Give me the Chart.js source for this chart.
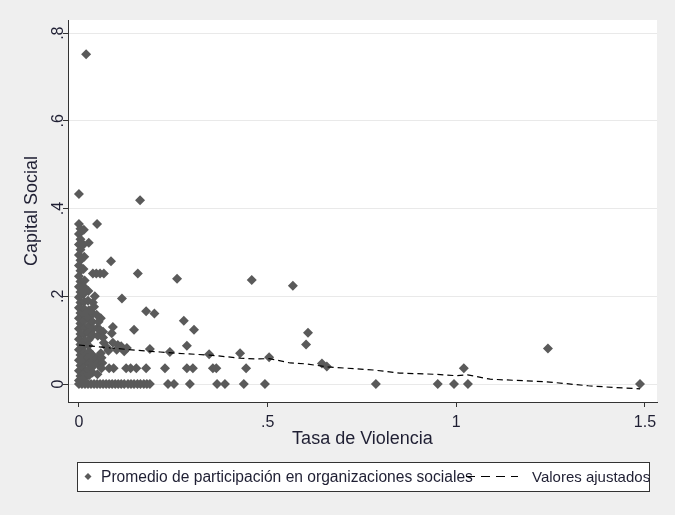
<!DOCTYPE html>
<html>
<head>
<meta charset="utf-8">
<script src="https://cdn.jsdelivr.net/npm/chart.js@4.4.1/dist/chart.umd.min.js"></script>
<style>
  html, body { margin: 0; padding: 0; background: #efefef; }
  #wrap { width: 675px; height: 515px; position: relative; }
</style>
</head>
<body>
<div id="wrap"><canvas id="c" width="675" height="515"></canvas></div>
<script>
// Axis ticks and labels
const xTicks = [0, 0.5, 1, 1.5];
const xTickLabels = ['0', '.5', '1', '1.5'];
const yTicks = [0, 0.2, 0.4, 0.6, 0.8];
const yTickLabels = ['0', '.2', '.4', '.6', '.8'];

// Observations: [tasa de violencia, capital social]
const puntosColumnaCero = [
  [0.000,0.365],[0.004,0.354],[0.000,0.342],[0.004,0.330],[0.000,0.318],[0.004,0.306],[0.000,0.294],[0.004,0.282],
  [0.000,0.270],[0.004,0.258],[0.000,0.246],[0.004,0.234],[0.000,0.222],[0.004,0.210],[0.000,0.198],[0.004,0.186],
  [0.000,0.174],[0.004,0.162],[0.000,0.150],[0.004,0.138],[0.000,0.126],[0.004,0.114],[0.000,0.102],[0.004,0.090],
  [0.000,0.078],[0.004,0.066],[0.000,0.054],[0.004,0.042],[0.000,0.030],[0.004,0.018],[0.000,0.008],
  [0.013,0.352],[0.012,0.318],[0.014,0.290],[0.012,0.262],[0.015,0.236],[0.013,0.222],[0.012,0.205],[0.014,0.188],
  [0.013,0.172],[0.015,0.158],[0.012,0.143],[0.014,0.128],[0.013,0.113],[0.015,0.099],[0.012,0.086],[0.014,0.072],
  [0.013,0.060],[0.015,0.048],[0.012,0.036],[0.014,0.024],[0.013,0.012],
  [0.025,0.212],[0.024,0.190],[0.026,0.168],[0.025,0.150],[0.027,0.134],[0.024,0.118],[0.026,0.101],[0.025,0.088],
  [0.027,0.074],[0.024,0.060],[0.026,0.047],[0.025,0.033],[0.027,0.020],
  [0.037,0.160],[0.036,0.142],[0.038,0.126],[0.037,0.112],[0.036,0.066],[0.038,0.052],[0.037,0.040],[0.036,0.026],
  [0.049,0.128],[0.050,0.110],[0.048,0.058],[0.050,0.046],[0.049,0.022],
  [0.042,0.200],[0.040,0.176],[0.047,0.158],[0.058,0.150],[0.056,0.124],[0.060,0.060],[0.062,0.048]
];
// Municipalities with zero social capital (x values)
const tasaConCapitalCero = [
  0.000,0.008,0.016,0.024,0.032,0.040,0.048,0.056,0.064,0.072,0.080,0.088,0.096,0.104,0.112,0.120,
  0.130,0.138,0.146,0.155,0.163,0.172,0.180,0.188,0.236,0.252,0.294,0.366,0.387,0.437,0.493,
  0.787,0.951,0.994,1.031,1.487
];
const puntosBajos = [
  [0.060,0.036],[0.080,0.036],[0.092,0.036],[0.125,0.036],[0.137,0.036],[0.152,0.036],[0.178,0.036],
  [0.228,0.036],[0.286,0.036],[0.302,0.036],[0.355,0.036],[0.364,0.036],[0.443,0.036],[1.020,0.036],
  [0.657,0.040],[0.644,0.047]
];
const puntosDispersos = [
  [0.019,0.752],[0.000,0.433],[0.162,0.419],[0.048,0.365],[0.026,0.322],[0.085,0.280],
  [0.037,0.252],[0.046,0.252],[0.056,0.252],[0.066,0.252],[0.156,0.252],[0.260,0.240],[0.458,0.237],[0.567,0.224],
  [0.114,0.195],[0.037,0.186],[0.178,0.166],[0.200,0.161],[0.278,0.144],[0.305,0.124],[0.146,0.124],
  [0.090,0.130],[0.052,0.142],[0.064,0.119],[0.087,0.116],[0.607,0.117],[0.602,0.090],
  [0.286,0.087],[0.188,0.080],[0.103,0.089],[0.127,0.082],[0.064,0.106],[0.066,0.094],[0.072,0.085],
  [0.078,0.076],[0.058,0.070],[0.345,0.068],[0.427,0.070],[0.241,0.073],[0.504,0.061],[0.090,0.094],
  [0.100,0.078],[0.112,0.086],[0.120,0.075],[1.243,0.081]
];

// Fitted values
const ajusteX = [0, 0.05, 0.1, 0.15, 0.215, 0.28, 0.347, 0.427, 0.47, 0.504, 0.56, 0.6, 0.66, 0.78, 0.85, 0.95, 1.0, 1.03, 1.09, 1.24, 1.35, 1.42, 1.487];
const ajusteY = [0.089, 0.085, 0.081, 0.077, 0.073, 0.069, 0.066, 0.059, 0.057, 0.058, 0.048, 0.046, 0.039, 0.032, 0.025, 0.022, 0.019, 0.021, 0.011, 0.005, -0.004, -0.008, -0.011];

const serieLabels = ['Promedio de participación en organizaciones sociales', 'Valores ajustados'];

const scatterData = []
  .concat(puntosColumnaCero.map(p => ({ x: p[0], y: p[1] })))
  .concat(tasaConCapitalCero.map(v => ({ x: v, y: 0 })))
  .concat(puntosBajos.map(p => ({ x: p[0], y: p[1] })))
  .concat(puntosDispersos.map(p => ({ x: p[0], y: p[1] })));
const lineData = ajusteX.map((v, i) => ({ x: v, y: ajusteY[i] }));

const FONT = "'Liberation Sans', Arial, sans-serif";
const TEXT = '#1f1f33';
const MARKER = '#5a5a5a';

const decor = {
  id: 'decor',
  beforeDraw(chart) {
    const { ctx, chartArea: a } = chart;
    ctx.save();
    ctx.fillStyle = '#efefef';
    ctx.fillRect(0, 0, chart.width, chart.height);
    ctx.fillStyle = '#ffffff';
    ctx.fillRect(a.left, a.top, a.right - a.left, a.bottom - a.top);
    ctx.restore();
  },
  afterDraw(chart) {
    const { ctx, chartArea: a, scales } = chart;
    const xs = scales.x, ys = scales.y;
    ctx.save();
    ctx.fillStyle = TEXT;
    ctx.textAlign = 'center';
    ctx.textBaseline = 'middle';

    // x tick labels
    ctx.font = '16px ' + FONT;
    xTicks.forEach((v, i) => ctx.fillText(xTickLabels[i], xs.getPixelForValue(v), 423));
    // y tick labels (rotated)
    yTicks.forEach((v, i) => {
      ctx.save();
      ctx.translate(59, ys.getPixelForValue(v));
      ctx.rotate(-Math.PI / 2);
      ctx.fillText(yTickLabels[i], 0, 0);
      ctx.restore();
    });

    // axis titles
    ctx.font = '18px ' + FONT;
    ctx.fillText('Tasa de Violencia', (a.left + a.right) / 2, 439);
    ctx.save();
    ctx.translate(32, (a.top + a.bottom) / 2);
    ctx.rotate(-Math.PI / 2);
    ctx.fillText('Capital Social', 0, 0);
    ctx.restore();

    // legend
    const lx = 77, ly = 462, lw = 572, lh = 29, cy = ly + lh / 2;
    ctx.fillStyle = '#ffffff';
    ctx.fillRect(lx, ly, lw, lh);
    ctx.strokeStyle = '#333333';
    ctx.lineWidth = 1;
    ctx.strokeRect(lx + 0.5, ly + 0.5, lw, lh);

    ctx.fillStyle = MARKER;
    ctx.beginPath();
    ctx.moveTo(88, cy - 3.5); ctx.lineTo(91.5, cy); ctx.lineTo(88, cy + 3.5); ctx.lineTo(84.5, cy);
    ctx.closePath(); ctx.fill();

    ctx.fillStyle = TEXT;
    ctx.textAlign = 'left';
    ctx.font = '15.6px ' + FONT;
    ctx.fillText(serieLabels[0], 101, cy + 1);

    ctx.strokeStyle = '#000000';
    ctx.lineWidth = 1.2;
    ctx.setLineDash([9, 6]);
    ctx.beginPath(); ctx.moveTo(466, cy); ctx.lineTo(518, cy); ctx.stroke();
    ctx.setLineDash([]);

    ctx.fillStyle = TEXT;
    ctx.font = '15px ' + FONT;
    ctx.fillText(serieLabels[1], 532, cy + 1);
    ctx.restore();
  }
};

new Chart(document.getElementById('c'), {
  data: {
    datasets: [
      {
        type: 'line',
        label: serieLabels[1],
        data: lineData,
        borderColor: '#000000',
        borderWidth: 1.2,
        borderDash: [6, 4],
        pointRadius: 0,
        fill: false,
        tension: 0,
        order: 0
      },
      {
        type: 'scatter',
        label: serieLabels[0],
        data: scatterData,
        pointStyle: 'rectRot',
        pointRadius: 5,
        pointHoverRadius: 5,
        backgroundColor: MARKER,
        borderColor: MARKER,
        borderWidth: 0,
        order: 1
      }
    ]
  },
  options: {
    responsive: false,
    animation: false,
    devicePixelRatio: 1,
    layout: { padding: { top: 20, right: 18, left: 0, bottom: 0 } },
    plugins: { legend: { display: false }, tooltip: { enabled: false } },
    scales: {
      x: {
        type: 'linear',
        position: 'bottom',
        min: -0.029,
        max: 1.532,
        afterBuildTicks: s => { s.ticks = xTicks.map(v => ({ value: v })); },
        afterFit: s => { s.height = 113; },
        ticks: { display: false },
        grid: { drawOnChartArea: false, drawTicks: true, tickLength: 5, tickColor: '#333333' },
        border: { display: true, color: '#333333', width: 1 }
      },
      y: {
        type: 'linear',
        position: 'left',
        min: -0.041,
        max: 0.83,
        afterBuildTicks: s => { s.ticks = yTicks.map(v => ({ value: v })); },
        afterFit: s => { s.width = 68; },
        ticks: { display: false },
        grid: { color: '#e9e9e9', lineWidth: 1, drawTicks: true, tickLength: 5, tickColor: '#333333' },
        border: { display: true, color: '#333333', width: 1 }
      }
    }
  },
  plugins: [decor]
});
</script>
</body>
</html>
